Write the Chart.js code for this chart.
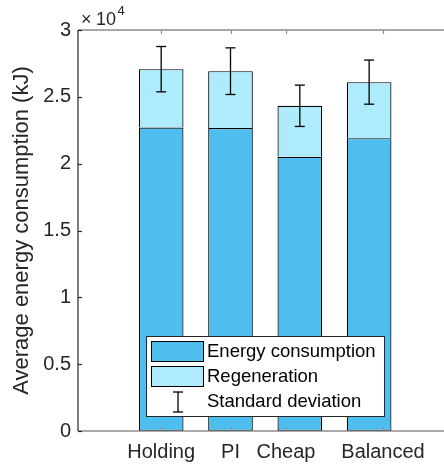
<!DOCTYPE html>
<html><head><meta charset="utf-8">
<script src="https://cdn.jsdelivr.net/npm/chart.js@4"></script>
<style>html,body{margin:0;padding:0;background:#fff;overflow:hidden}#wrap{width:444px;height:473px;position:relative}</style>
</head><body><div id="wrap"><canvas id="c" width="444" height="473"></canvas></div>
<script>
const categories = ['Holding', 'PI', 'Cheap', 'Balanced'];
const barPositions = [1, 2, 3, 4];
const tickPositions = [1, 2, 2.8, 4.2];
const energyConsumption = [22710, 22660, 20510, 21910];
const regeneration = [4360, 4260, 3820, 4190];
const stdDeviation = [1695, 1745, 1545, 1650];
const yTicks = [0, 5000, 10000, 15000, 20000, 25000, 30000];
const legendLabels = ['Energy consumption', 'Regeneration', 'Standard deviation'];

const DARK = 'rgb(77,190,238)';
const LIGHT = 'rgb(174,235,253)';
const TXT = '#262626';
const FONT = 'Liberation Sans, Arial, sans-serif';

function seg(ctx, x1, y1, x2, y2) { ctx.beginPath(); ctx.moveTo(x1, y1); ctx.lineTo(x2, y2); ctx.stroke(); }

const overlay = {
  id: 'overlay',
  afterDatasetsDraw(chart) {
    const { ctx, chartArea: a, scales: { x, y } } = chart;
    ctx.save();
    // error bars
    ctx.strokeStyle = '#000'; ctx.lineWidth = 1.3;
    barPositions.forEach((p, i) => {
      const tot = energyConsumption[i] + regeneration[i];
      const px = x.getPixelForValue(p);
      const yt = y.getPixelForValue(tot + stdDeviation[i]);
      const yb = y.getPixelForValue(tot - stdDeviation[i]);
      seg(ctx, px, yt, px, yb);
      seg(ctx, px - 5, yt, px + 5, yt);
      seg(ctx, px - 5, yb, px + 5, yb);
    });
    // top and bottom axis lines (gray)
    ctx.strokeStyle = '#8c8c8c'; ctx.lineWidth = 1.5;
    seg(ctx, a.left, a.top, a.right, a.top);
    seg(ctx, a.left, a.bottom, a.right, a.bottom);
    // x ticks (inward, top and bottom)
    ctx.lineWidth = 1.2;
    tickPositions.forEach(t => {
      const px = Math.round(x.getPixelForValue(t)) + 0.5;
      seg(ctx, px, a.bottom, px, a.bottom - 4);
      seg(ctx, px, a.top, px, a.top + 4);
    });
    // left axis (dark)
    ctx.strokeStyle = TXT; ctx.lineWidth = 1.2;
    seg(ctx, a.left, a.top, a.left, a.bottom);
    yTicks.forEach(t => {
      const py = Math.round(y.getPixelForValue(t)) + 0.5;
      seg(ctx, a.left, py, a.left + 4, py);
    });
    // exponent label
    ctx.fillStyle = TXT; ctx.textBaseline = 'alphabetic'; ctx.textAlign = 'left';
    ctx.font = '18px ' + FONT;
    ctx.fillText('\u00d7', a.left + 3, a.top - 5);
    ctx.fillText('10', a.left + 18, a.top - 5);
    ctx.font = '13px ' + FONT;
    ctx.fillText('4', a.left + 39.5, a.top - 15);
    ctx.restore();
  },
  afterDraw(chart) {
    const { ctx } = chart;
    ctx.save();
    // legend box
    const bx = 146.5, by = 336.5, bw = 238, bh = 80;
    ctx.fillStyle = '#fff'; ctx.fillRect(bx, by, bw, bh);
    ctx.strokeStyle = TXT; ctx.lineWidth = 1; ctx.strokeRect(bx, by, bw, bh);
    // swatches
    ctx.fillStyle = DARK; ctx.fillRect(151.5, 341.5, 52, 20);
    ctx.strokeStyle = '#000'; ctx.strokeRect(151.5, 341.5, 52, 20);
    ctx.fillStyle = LIGHT; ctx.fillRect(151.5, 366.5, 52, 20);
    ctx.strokeRect(151.5, 366.5, 52, 20);
    // errorbar icon
    ctx.lineWidth = 1.3;
    seg(ctx, 178, 392, 178, 412);
    seg(ctx, 173, 392, 183, 392);
    seg(ctx, 173, 412, 183, 412);
    // texts
    ctx.fillStyle = '#000'; ctx.font = '18.5px ' + FONT; ctx.textBaseline = 'middle'; ctx.textAlign = 'left';
    legendLabels.forEach((l, i) => ctx.fillText(l, 207, 352 + i * 25));
    ctx.restore();
  }
};

new Chart(document.getElementById('c'), {
  type: 'bar',
  data: {
    datasets: [
      { label: legendLabels[0], data: barPositions.map((p, i) => ({ x: p, y: energyConsumption[i] })),
        backgroundColor: DARK, borderColor: '#000', borderWidth: 1.2, borderSkipped: false },
      { label: legendLabels[1], data: barPositions.map((p, i) => ({ x: p, y: regeneration[i] })),
        backgroundColor: LIGHT, borderColor: '#000', borderWidth: 1.2, borderSkipped: 'start' }
    ]
  },
  options: {
    responsive: false, animation: false,
    categoryPercentage: 1, barPercentage: 0.805,
    layout: { padding: { top: 30, left: 0, right: 0, bottom: 0 } },
    plugins: { legend: { display: false }, tooltip: { enabled: false } },
    scales: {
      x: {
        type: 'linear', min: -0.2, max: 5.08, stacked: true, offset: false,
        grid: { display: false, drawTicks: false, offset: false }, border: { display: false },
        afterBuildTicks: s => { s.ticks = tickPositions.map(v => ({ value: v })); },
        afterFit: s => { s.height = 42; },
        ticks: { autoSkip: false, maxRotation: 0, padding: 9, color: TXT, font: { family: FONT, size: 20 },
          callback: (v) => { const i = tickPositions.indexOf(v); return i >= 0 ? categories[i] : ''; } }
      },
      y: {
        min: 0, max: 30000, stacked: true,
        grid: { display: false, drawTicks: false }, border: { display: false },
        afterBuildTicks: s => { s.ticks = yTicks.map(v => ({ value: v })); },
        afterFit: s => { s.width = 78; },
        ticks: { padding: 7, color: TXT, font: { family: FONT, size: 20 }, callback: v => String(v / 10000) },
        title: { display: true, text: 'Average energy consumption (kJ)', color: TXT, font: { family: FONT, size: 22 }, padding: { top: 9, bottom: 0 } }
      }
    }
  },
  plugins: [overlay]
});
</script></body></html>
